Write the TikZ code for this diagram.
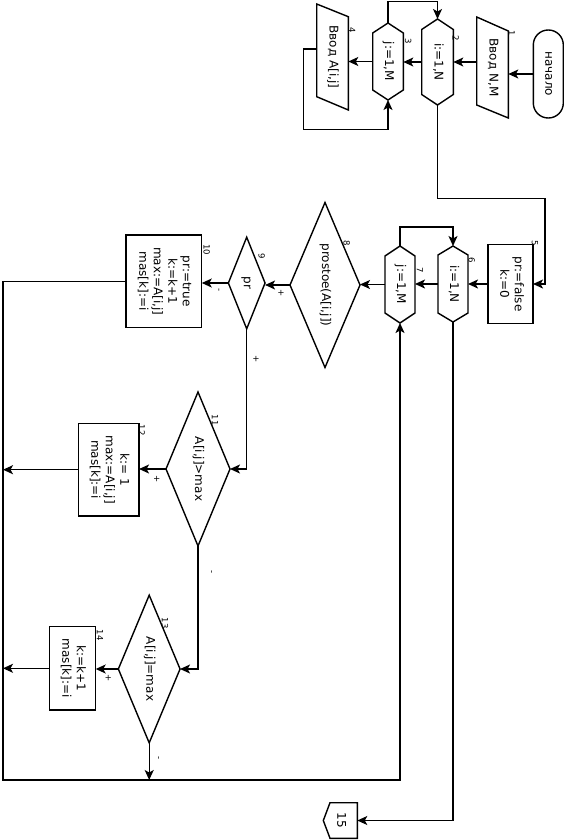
\documentclass[tikz,border=0pt]{standalone}
\usepackage{graphicx}
\usepackage{fontspec}
\setmainfont{DejaVu Sans}
\usetikzlibrary{arrows.meta,calc}
\newcommand\rtxt[1]{\rotatebox{-90}{\begin{tabular}{@{}c@{}}#1\end{tabular}}}
\newcommand\drawdia[1]{\draw[ln] (#1.north) -- (#1.east) -- (#1.south) -- (#1.west) -- cycle;}
\newcommand\drawhex[2]{\draw[ln] (#1.north) -- ([yshift=-#2pt]#1.north east) -- ([yshift=#2pt]#1.south east) -- (#1.south) -- ([yshift=#2pt]#1.south west) -- ([yshift=-#2pt]#1.north west) -- cycle;}
\newcommand\drawpar[3]{\draw[ln] (#1.north west) -- ([yshift=-#2pt]#1.north east) -- (#1.south east) -- ([yshift=#3pt]#1.south west) -- cycle;}
\tikzset{
  el/.style={rectangle, inner sep=0pt, outer sep=0pt, font=\fontsize{12}{14.5}\selectfont},
  ln/.style={line width=1.4pt, line join=miter},
  boxel/.style={el, draw, ln},
  arr/.style={ln, -{Stealth[length=10pt,width=9pt,inset=2.5pt]}},
  num/.style={font=\fontsize{8.5}{9}\selectfont, inner sep=0pt, rotate=-90},
}
\begin{document}
\begin{tikzpicture}[x=1pt,y=-1pt]
\useasboundingbox (0,0) rectangle (564,840);
\fill[white] (0,0) rectangle (564,840);
% elements
\node[boxel, rounded corners=14.9pt, minimum width=30pt, minimum height=88pt] (start) at (548.3,74) {\rtxt{начало}};
\node[el, minimum width=31.6pt, minimum height=101pt] (in1) at (492.5,67.5) {\rtxt{Ввод N,M}};
\node[el, minimum width=31.6pt, minimum height=86pt] (h2) at (437.5,62) {\rtxt{i:=1,N}};
\node[el, minimum width=30.6pt, minimum height=77pt] (h3) at (388,61.5) {\rtxt{j:=1,M}};
\node[el, minimum width=31.6pt, minimum height=106pt] (in2) at (332.5,57) {\rtxt{Ввод A[i,j]}};
\node[boxel, minimum width=45pt, minimum height=79pt] (b5) at (510.5,284) {\rtxt{pr:=false\\k:=0}};
\node[el, minimum width=30pt, minimum height=76pt] (h6) at (453,284) {\rtxt{i:=1,N}};
\node[el, minimum width=30pt, minimum height=77pt] (h7) at (400,284.5) {\rtxt{j:=1,M}};
\node[el, minimum width=70pt, minimum height=165pt] (d8) at (325,285) {\rtxt{prostoe(A[i,j])}};
\node[el, minimum width=36.7pt, minimum height=91.6pt] (d9) at (246.7,283) {\rtxt{pr}};
\node[boxel, minimum width=75.7pt, minimum height=92.3pt] (b10) at (163.9,281.2) {\rtxt{pr:=true\\k:=k+1\\max:=A[i,j]\\mas[k]:=i}};
\node[el, minimum width=64pt, minimum height=154pt] (d11) at (198,469) {\rtxt{A[i,j]>max}};
\node[boxel, minimum width=60.7pt, minimum height=92.7pt] (b12) at (108.7,469.7) {\rtxt{k:= 1\\max:=A[i,j]\\mas[k]:=i}};
\node[el, minimum width=61.7pt, minimum height=147.7pt] (d13) at (149.2,669) {\rtxt{A[i,j]=max}};
\node[boxel, minimum width=46.4pt, minimum height=83.3pt] (b14) at (72.5,668.3) {\rtxt{k:=k+1\\mas[k]:=i}};
\node[el, minimum width=34pt, minimum height=35.6pt] (c15) at (340.3,820.5) {\rtxt{15}};
% outlines
\drawpar{in1}{14}{13}
\drawpar{in2}{12.7}{13.3}
\drawhex{h2}{10.5}
\drawhex{h3}{10}
\drawhex{h6}{9}
\drawhex{h7}{10}
\drawdia{d8}
\drawdia{d9}
\drawdia{d11}
\drawdia{d13}
\draw[ln] (c15.north east) -- ([xshift=6.7pt]c15.north west) -- (c15.west) -- ([xshift=6.7pt]c15.south west) -- (c15.south east) -- cycle;
% helper coordinates
\coordinate (jt) at (388,1.5);
\coordinate (jl) at (303.3,129.3);
\coordinate (c1) at (545,198.5);
\coordinate (c3) at (3,780);
% connectors
\draw[arr] (start.west) -- (start.west -| in1.east);
\draw[arr] (h2.east -| in1.west) -- (h2.east);
\draw[arr] (h2.west) -- (h2.west -| h3.east);
\draw[arr] (h3.west) -- (h3.west -| in2.east);
\draw[arr] ([yshift=8pt]in2.west) -| (jl) -| (h3.south);
\draw[arr] (h3.north) -- (jt) -| (h2.north);
\draw[arr] (h2.south) |- (c1) |- (b5.east);
\draw[arr] (b5.west) -- (b5.west -| h6.east);
\draw[arr] (h6.west) -- (h6.west -| h7.east);
\draw[arr] (h7.north) |- ([yshift=19pt]h6.north) -- (h6.north);
\draw[arr] (h7.west) -- (h7.west -| d8.east);
\draw[arr] (d8.west) -- (d8.west -| d9.east);
\draw[arr] (d9.west) -- (d9.west -| b10.east);
\draw[arr] (b10.west) -| (c3) -| (h7.south);
\draw[arr] (d9.south) |- (d11.east);
\draw[arr] (d11.west) -- (d11.west -| b12.east);
\draw[arr] (b12.west) -- (b12.west -| c3);
\draw[arr] (d11.south) |- (d13.east);
\draw[arr] (d13.west) -- (d13.west -| b14.east);
\draw[arr] (b14.west) -- (b14.west -| c3);
\draw[arr] (d13.south) -- (d13.south |- c3);
\draw[arr] (h6.south) |- (c15.east);
% branch signs
\node[num] (s8) at (281,293) {+};
\node[num] (s9m) at (218,290) {-};
\node[num] (s9p) at (256,359) {+};
\node[num] (s11p) at (156.7,479) {+};
\node[num] (s11m) at (210.7,571.7) {-};
\node[num] (s13p) at (108.3,678) {+};
\node[num] (s13m) at (157.7,757.6) {-};
% numbers
\node[num] (n1) at (511.7,33.3) {1};
\node[num] (n2) at (455.7,38.3) {2};
\node[num] (n3) at (408.3,41.7) {3};
\node[num] (n4) at (352.3,30) {4};
\node[num] (n5) at (535,243.3) {5};
\node[num] (n6) at (471.7,260) {6};
\node[num] (n7) at (420,270) {7};
\node[num] (n8) at (346.7,243.3) {8};
\node[num] (n9) at (261.7,256.7) {9};
\node[num] (n10) at (206.7,250) {10};
\node[num] (n11) at (215,420) {11};
\node[num] (n12) at (141.7,430) {12};
\node[num] (n13) at (165,623) {13};
\node[num] (n14) at (100,635) {14};
\end{tikzpicture}
\end{document}
